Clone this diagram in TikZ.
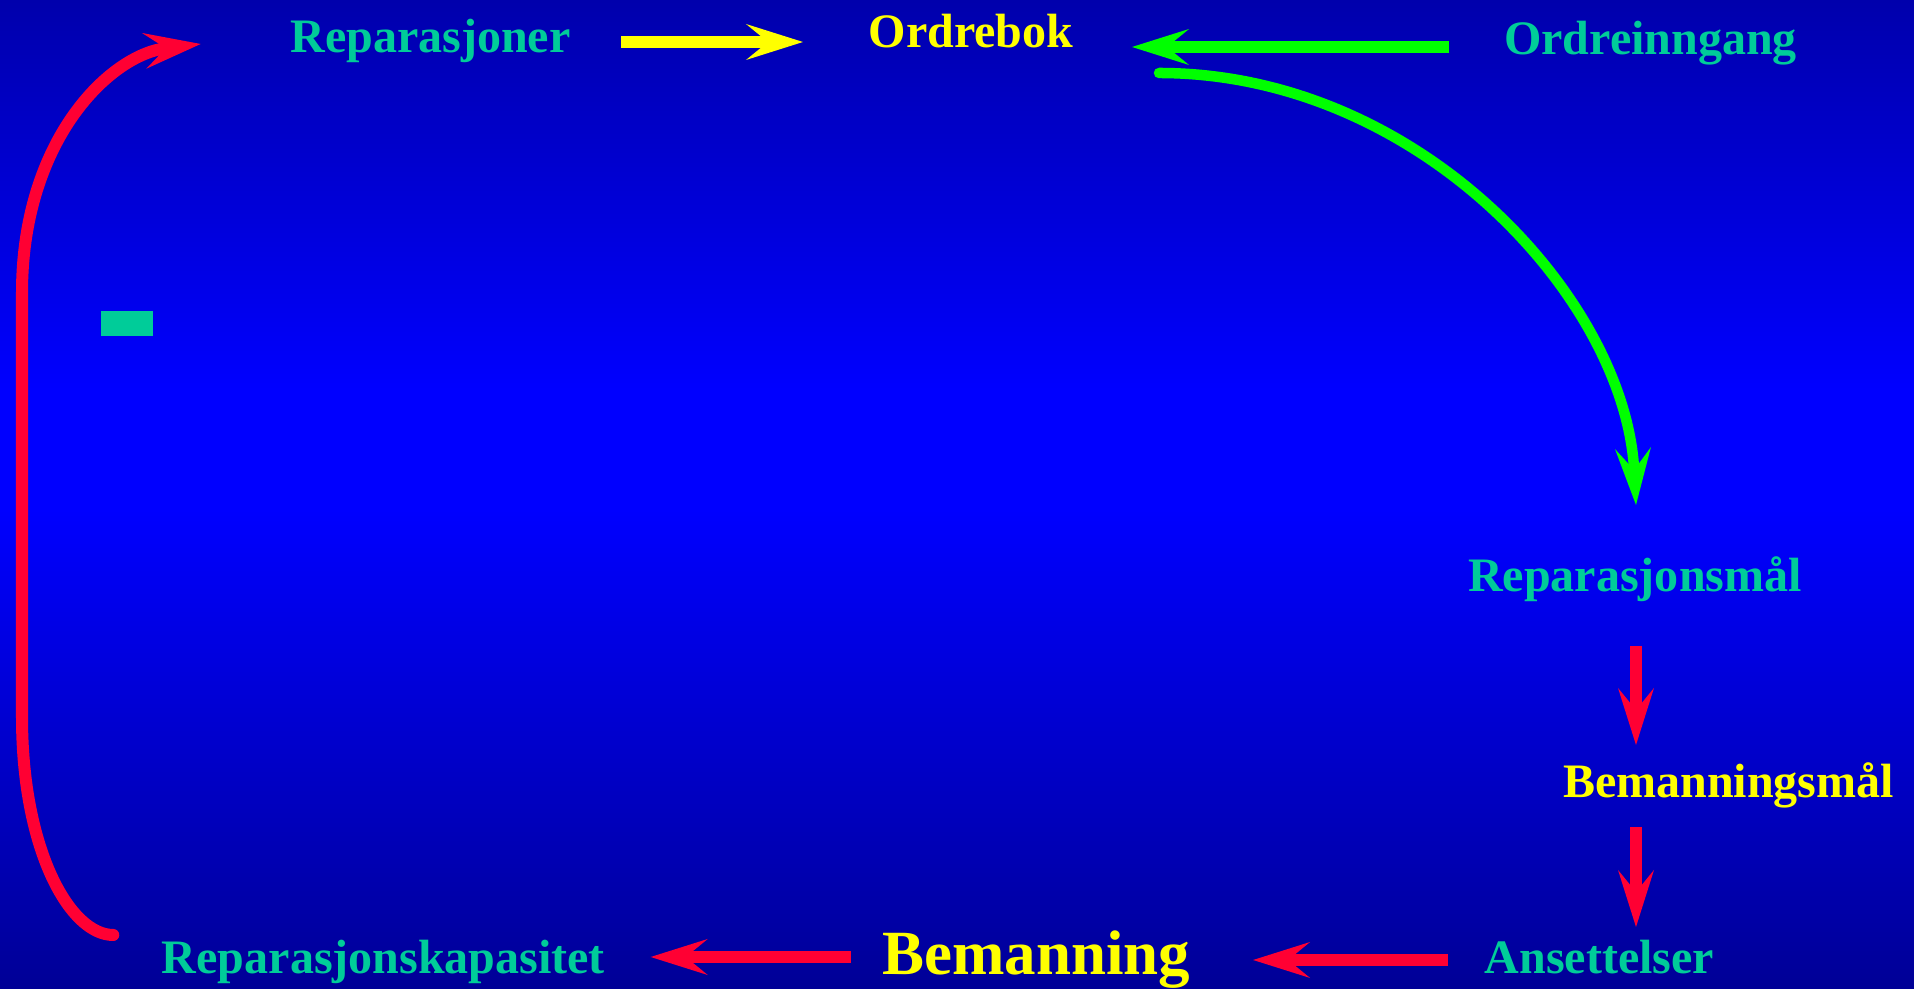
\documentclass[tikz,border=0pt]{standalone}
\usepackage{fontspec}
\setmainfont{Liberation Serif}
\usetikzlibrary{arrows.meta}

\definecolor{tealtxt}{RGB}{0,204,153}
\definecolor{yellowtxt}{RGB}{255,255,0}
\definecolor{greenln}{RGB}{0,255,0}
\definecolor{redln}{RGB}{255,0,51}
\definecolor{bgtop}{RGB}{0,0,172}
\definecolor{bgmid}{RGB}{0,0,255}
\definecolor{bgbot}{RGB}{0,0,150}

\begin{document}
\begin{tikzpicture}[
        x=0.01cm, y=-0.01cm,
        txt/.style={font=\bfseries\fontsize{13.66}{16}\selectfont, text=tealtxt, inner sep=0pt, anchor=base},
        key/.style={txt, text=yellowtxt},
        arrow/.style={-{Stealth[length=5.7mm, width=3.6mm, inset=2.2mm, line width=0pt]}, line width=1.2mm},
        yarrow/.style={arrow, draw=yellowtxt},
        garrow/.style={arrow, draw=greenln},
        rarrow/.style={arrow, draw=redln},
    ]
        % background
        \useasboundingbox (0,0) rectangle (1914,989);
        \fill[top color=bgtop, bottom color=bgmid] (0,0) rectangle (1914,390);
        \fill[bgmid] (0,389) rectangle (1914,510);
        \fill[top color=bgmid, bottom color=bgbot] (0,509) rectangle (1914,989);

        \node[txt] (repar) at (430.5,53) {Reparasjoner};
        \node[key] (ordrebok) at (971,48) {Ordrebok};
        \node[txt] (ordreinn) at (1650.5,55) {Ordreinngang};
        \node[txt] (repmaal) at (1635,592) {Reparasjonsmål};
        \node[key] (bemmaal) at (1728.5,798) {Bemanningsmål};
        \node[txt] (ansett) at (1599.5,974) {Ansettelser};
        \node[key, font=\bfseries\fontsize{17.9}{20}\selectfont] (beman) at (1036.5,975) {Bemanning};
        \node[txt] (repkap) at (383.5,974) {Reparasjonskapasitet};
        \node[fill=tealtxt, inner sep=0pt, minimum width=5.2mm, minimum height=2.5mm] (minus) at (127,323.5) {};

        \draw[yarrow] ([shift={(50,-11)}]repar.base east) -- ([shift={(-65,-6)}]ordrebok.base west);
        \draw[garrow] ([shift={(-54,-8)}]ordreinn.base west) -- ([shift={(58,-1)}]ordrebok.base east);
        \draw[garrow, line width=1.05mm, line cap=round] ([shift={(85,25)}]ordrebok.base east)
            .. controls (1420,73) and (1625,300) .. ([shift={(1,-87)}]repmaal.base);
        \draw[rarrow] ([shift={(1,54)}]repmaal.base) -- ([shift={(-92.5,-53)}]bemmaal.base);
        \draw[rarrow] ([shift={(-92.5,29)}]bemmaal.base) -- ([shift={(36.5,-47)}]ansett.base);
        \draw[rarrow] ([shift={(-36,-14)}]ansett.base west) -- ([shift={(62,-15)}]beman.base east);
        \draw[rarrow] ([shift={(-31,-18)}]beman.base west) -- ([shift={(45,-17)}]repkap.base east);
        \draw[rarrow, line cap=round] ([shift={(-48,-39)}]repkap.base west)
            .. controls (70,935) and (22,850) .. (22,717) -- (22,293)
            .. controls (22,140) and (110,55) .. ([shift={(-89,-9)}]repar.base west);
    \end{tikzpicture}
\end{document}
